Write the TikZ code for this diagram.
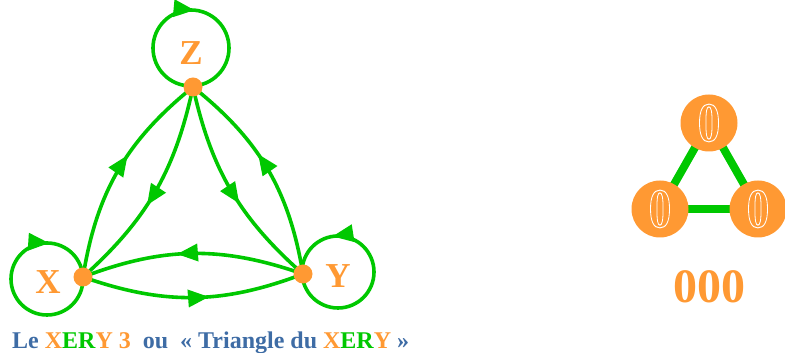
\documentclass[tikz,border=0pt]{standalone}
\usepackage{fontspec}
\usepackage{graphicx}
\setmainfont{Liberation Serif}
\newfontface\zerofont{Liberation Serif Bold}[FakeBold=1.8]
\usetikzlibrary{arrows.meta,decorations.markings}
\definecolor{xorange}{RGB}{255,153,51}
\definecolor{xgreen}{RGB}{0,200,0}
\definecolor{xblue}{RGB}{62,108,165}
\newcommand{\outlinedzero}{\scalebox{0.8}[1]{\pgfsetstrokecolor{white}\zerofont 0}}
\tikzset{
  >={Triangle[length=21pt,width=17pt]},
  edge/.style={draw=xgreen, line width=3.6pt},
  tipmark/.style={postaction={decorate}, decoration={markings,
     mark=at position #1 with {\arrow{>}}}},
  revmark/.style={postaction={decorate}, decoration={markings,
     mark=at position #1 with {\arrowreversed{>}}}},
  dot/.style={circle, fill=xorange, minimum size=19pt, inner sep=0pt},
  vlabel/.style={text=xorange, font=\bfseries\fontsize{35}{35}\selectfont, inner sep=0pt},
  disc/.style={circle, fill=xorange, minimum size=57pt, inner sep=0pt,
     font=\fontsize{56}{56}\selectfont, text=xorange},
  bar/.style={draw=xgreen, line width=8pt},
}
\begin{document}
\begin{tikzpicture}[x=1pt,y=1pt]
\useasboundingbox (0,0) rectangle (785,353);
% vertices
\coordinate (X) at (83,76);
\coordinate (Y) at (303,79);
\coordinate (Z) at (193,266);
\coordinate (zc) at (191,305);
\coordinate (xc) at (47,74);
\coordinate (yc) at (338,81);
% loops
\draw[edge, revmark=0.235] (zc) circle[radius=38];
\draw[edge, revmark=0.24] (xc) circle[radius=36];
\draw[edge, tipmark=0.275] (yc) circle[radius=36];
% edges
\draw[edge, tipmark=0.58] (X) to[bend left=21] (Z);
\draw[edge, tipmark=0.57] (Z) to[bend left=18] (X);
\draw[edge, tipmark=0.57] (Z) to[bend right=18] (Y);
\draw[edge, tipmark=0.58] (Y) to[bend right=21] (Z);
\draw[edge, tipmark=0.57] (Y) to[bend right=20] (X);
\draw[edge, tipmark=0.57] (X) to[bend right=20] (Y);
% dots
\node[dot] (Xd) at (X) {};
\node[dot] (Yd) at (Y) {};
\node[dot] (Zd) at (Z) {};
% labels
\node[vlabel] (Zl) at (191,300) {Z};
\node[vlabel] (Xl) at (48,71) {X};
\node[vlabel] (Yl) at (338,77) {Y};
% right figure
\coordinate (T) at (709,230);
\coordinate (L) at (660,144);
\coordinate (R) at (758,144);
\draw[bar] (T) -- (L);
\draw[bar] (T) -- (R);
\draw[bar] (L) -- (R);
\node[disc] (Td) at (T) {\outlinedzero};
\node[disc] (Ld) at (L) {\outlinedzero};
\node[disc] (Rd) at (R) {\outlinedzero};
\node[text=xorange, font=\bfseries\fontsize{48}{48}\selectfont, inner sep=0pt] (zeros) at (709,66) {000};
% caption
\node[anchor=base west, inner sep=0pt, text=xblue, font=\bfseries\fontsize{24}{24}\selectfont] (cap) at (12,4)
 {Le \textcolor{xorange}{X}\textcolor{xgreen}{ER}\textcolor{xorange}{Y 3}\ \ ou\ \ « Triangle du \textcolor{xorange}{X}\textcolor{xgreen}{ER}\textcolor{xorange}{Y} »};
\end{tikzpicture}
\end{document}
